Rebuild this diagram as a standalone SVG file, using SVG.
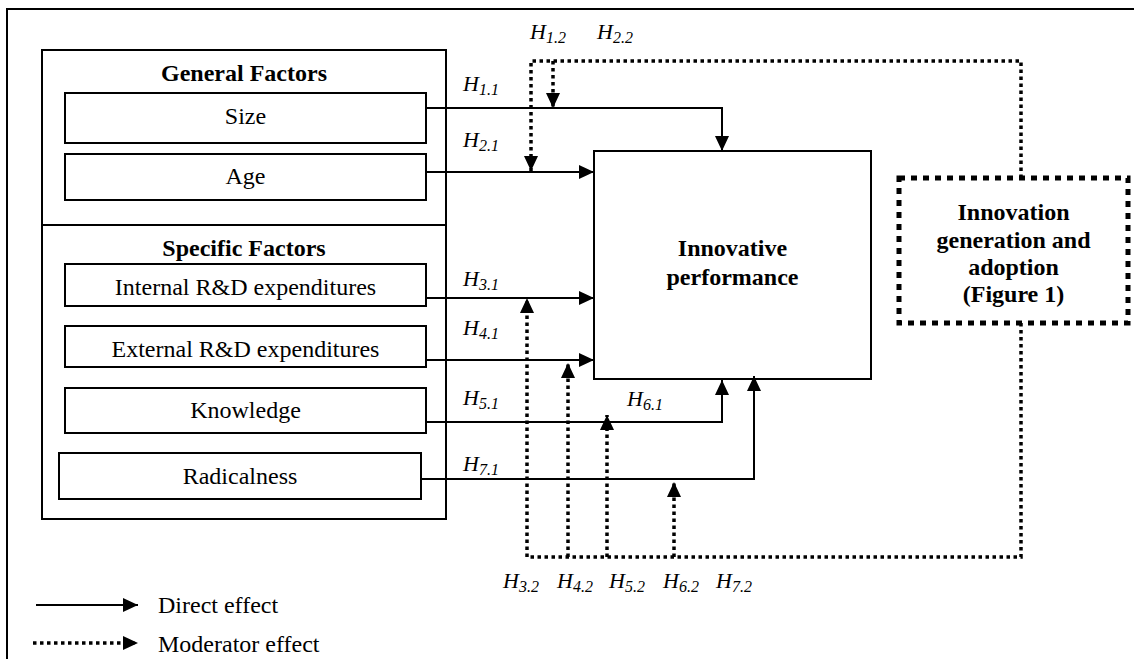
<svg xmlns="http://www.w3.org/2000/svg" width="1134" height="659" viewBox="0 0 1134 659">
<defs>
<marker id="ah" markerUnits="userSpaceOnUse" markerWidth="16" markerHeight="15" refX="15" refY="7" orient="auto" viewBox="0 0 16 15">
<path d="M0,0 L15,7 L0,14 Z" fill="#000" stroke="none"/>
</marker>
<style>
.box{fill:#fff;stroke:#000;stroke-width:2}
.lbl{font-family:"Liberation Serif","Times New Roman",serif;font-size:24px;fill:#000;text-anchor:middle}
.b{font-weight:bold}
.h{font-family:"Liberation Serif","Times New Roman",serif;font-style:italic;font-size:22px;fill:#000}
.sub{font-size:16px}
.solid{fill:none;stroke:#000;stroke-width:2}
.dot{fill:none;stroke:#000;stroke-width:3.5;stroke-dasharray:3.5 3.5}
.dash{fill:#fff;stroke:#000;stroke-width:5;stroke-dasharray:6 6}
</style>
</defs>
<rect width="1134" height="659" fill="#fff"/>
<path d="M7,659 V9 H1134" fill="none" stroke="#000" stroke-width="2"/>

<g id="factors">
<rect class="box" x="42" y="50" width="404" height="469"/>
<line x1="42" y1="225" x2="446" y2="225" stroke="#000" stroke-width="2"/>
<text class="lbl b" x="244" y="81">General Factors</text>
<text class="lbl b" x="244" y="256">Specific Factors</text>
</g>
<g id="size"><rect class="box" x="65" y="93" width="361" height="50"/><text class="lbl" x="245.5" y="124">Size</text></g>
<g id="age"><rect class="box" x="65" y="154" width="361" height="46"/><text class="lbl" x="245.5" y="184">Age</text></g>
<g id="internal"><rect class="box" x="65" y="264" width="361" height="42"/><text class="lbl" x="245.5" y="295">Internal R&amp;D expenditures</text></g>
<g id="external"><rect class="box" x="65" y="326" width="361" height="41"/><text class="lbl" x="245.5" y="357">External R&amp;D expenditures</text></g>
<g id="knowledge"><rect class="box" x="65" y="388" width="361" height="45"/><text class="lbl" x="245.5" y="418">Knowledge</text></g>
<g id="radicalness"><rect class="box" x="59" y="453" width="362" height="46"/><text class="lbl" x="240" y="484">Radicalness</text></g>

<g id="performance">
<rect class="box" x="594" y="151" width="277" height="228"/>
<text class="lbl b" x="732.5" y="256">Innovative</text>
<text class="lbl b" x="732.5" y="285">performance</text>
</g>

<g id="innovation">
<rect class="dash" x="899" y="178" width="229" height="145"/>
<text class="lbl b" x="1013.5" y="220">Innovation</text>
<text class="lbl b" x="1013.5" y="248">generation and</text>
<text class="lbl b" x="1013.5" y="275">adoption</text>
<text class="lbl b" x="1013.5" y="302">(Figure 1)</text>
</g>

<g id="connectors">
<path class="solid" d="M426,108 H722 V151" marker-end="url(#ah)"/>
<path class="solid" d="M426,172 H594" marker-end="url(#ah)"/>
<path class="solid" d="M426,298 H594" marker-end="url(#ah)"/>
<path class="solid" d="M426,360 H594" marker-end="url(#ah)"/>
<path class="solid" d="M426,422 H722 V380" marker-end="url(#ah)"/>
<path class="solid" d="M421,479 H754 V376" marker-end="url(#ah)"/>

<path class="dot" d="M1021,178 V61 H531 V171" marker-end="url(#ah)"/>
<path class="dot" d="M553,61 V108" marker-end="url(#ah)"/>
<path class="dot" d="M1021,323 V557 H527 V298" marker-end="url(#ah)"/>
<path class="dot" d="M568,557 V363" marker-end="url(#ah)"/>
<path class="dot" d="M607,557 V415" marker-end="url(#ah)"/>
<path class="dot" d="M674,557 V482" marker-end="url(#ah)"/>
</g>

<g id="labels">
<text class="h" x="463" y="91">H<tspan class="sub" dy="4">1.1</tspan></text>
<text class="h" x="463" y="147">H<tspan class="sub" dy="4">2.1</tspan></text>
<text class="h" x="530" y="39">H<tspan class="sub" dy="4">1.2</tspan></text>
<text class="h" x="597" y="39">H<tspan class="sub" dy="4">2.2</tspan></text>
<text class="h" x="463" y="286">H<tspan class="sub" dy="4">3.1</tspan></text>
<text class="h" x="463" y="335">H<tspan class="sub" dy="4">4.1</tspan></text>
<text class="h" x="463" y="405">H<tspan class="sub" dy="4">5.1</tspan></text>
<text class="h" x="627" y="406">H<tspan class="sub" dy="4">6.1</tspan></text>
<text class="h" x="463" y="471">H<tspan class="sub" dy="4">7.1</tspan></text>
<text class="h" x="503" y="588">H<tspan class="sub" dy="4">3.2</tspan></text>
<text class="h" x="557" y="588">H<tspan class="sub" dy="4">4.2</tspan></text>
<text class="h" x="609" y="588">H<tspan class="sub" dy="4">5.2</tspan></text>
<text class="h" x="663" y="588">H<tspan class="sub" dy="4">6.2</tspan></text>
<text class="h" x="716" y="588">H<tspan class="sub" dy="4">7.2</tspan></text>
</g>

<g id="legend">
<path class="solid" d="M36,605 H138" marker-end="url(#ah)"/>
<text class="lbl" x="158" y="613" style="text-anchor:start">Direct effect</text>
<path class="dot" d="M33,643 H138" marker-end="url(#ah)"/>
<text class="lbl" x="158" y="652" style="text-anchor:start">Moderator effect</text>
</g>
</svg>
